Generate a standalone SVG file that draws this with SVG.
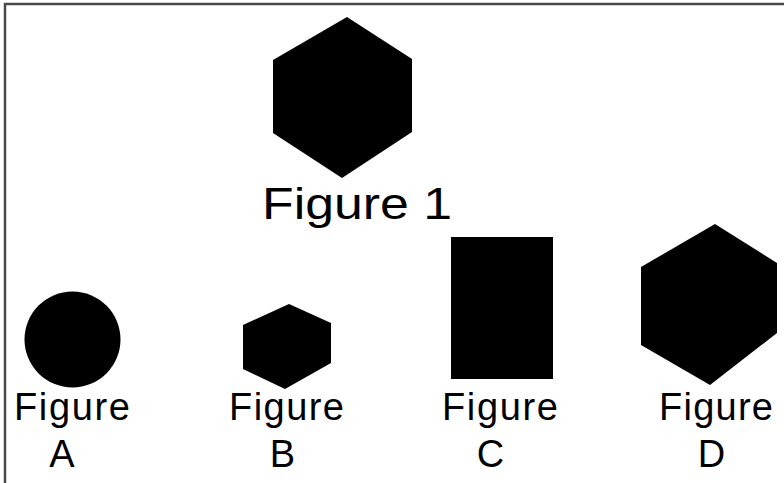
<svg xmlns="http://www.w3.org/2000/svg" width="784" height="483" viewBox="0 0 784 483">
<style>
.shape{fill:#000;stroke:none}
.lbl{font-family:"Liberation Sans",Arial,sans-serif;fill:#000;font-size:38px}
.big{font-size:44px}
.frame{stroke:#4a4a4a;stroke-width:2.5;fill:none}
</style>
<rect width="784" height="483" fill="#fff"/>
<g id="frame">
<path class="frame" d="M5,483 V4 H784"/>
</g>
<g id="figure1">
<polygon class="shape" points="347,17 412,59 412,132 342,178 273,133 273,60"/>
<text class="lbl big" x="262" y="219" textLength="190" lengthAdjust="spacingAndGlyphs">Figure 1</text>
</g>
<g id="figureA">
<circle class="shape" cx="72.5" cy="339.5" r="48"/>
<text class="lbl" x="14" y="420" textLength="116" lengthAdjust="spacing">Figure</text>
<text class="lbl" x="62" y="467" text-anchor="middle" font-size="40">A</text>
</g>
<g id="figureB">
<polygon class="shape" points="289,304 331,323 331,363 285,389 243,369 243,325"/>
<text class="lbl" x="229" y="420" textLength="115" lengthAdjust="spacing">Figure</text>
<text class="lbl" x="282.5" y="467" text-anchor="middle" font-size="40">B</text>
</g>
<g id="figureC">
<rect class="shape" x="451" y="237" width="102" height="142"/>
<text class="lbl" x="442" y="420" textLength="116" lengthAdjust="spacing">Figure</text>
<text class="lbl" x="490.5" y="467" text-anchor="middle" font-size="40">C</text>
</g>
<g id="figureD">
<polygon class="shape" points="715,224 777,263 777,333 710,385 641,345 641,267"/>
<text class="lbl" x="659" y="420" textLength="114" lengthAdjust="spacing">Figure</text>
<text class="lbl" x="711.5" y="467" text-anchor="middle" font-size="40">D</text>
</g>
</svg>
